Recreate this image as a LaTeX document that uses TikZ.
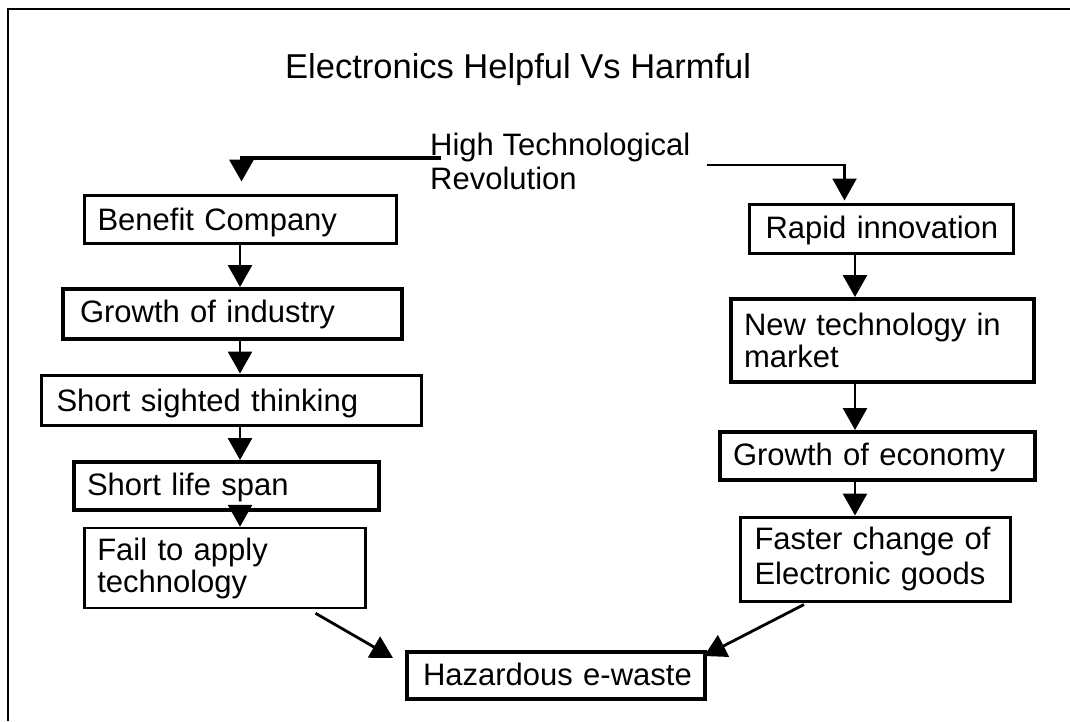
\documentclass[tikz,border=0pt]{standalone}
\usepackage{fontspec}
\setmainfont{Liberation Sans}
\usetikzlibrary{arrows.meta,calc}
\begin{document}
\begin{tikzpicture}[x=1pt,y=-1pt,
  box/.style={draw, line width=3pt, rectangle, anchor=west, inner ysep=0pt,
    align=left, font=\fontsize{31}{35}\selectfont},
  tight/.style={font=\fontsize{31}{32}\selectfont},
  % single-line boxes: place the baseline #1 below the box centre
  oneline/.style={text depth=6.5pt, text height=6.5pt+2*#1},
  heavy/.style={line width=4pt},
  arr/.style={line width=2.8pt, -{Triangle[length=22pt,width=24pt]}},
  frame/.style={line width=2pt},
]
\useasboundingbox (0,0) rectangle (1070,721);

% page frame: top and left rules only
\draw[frame] (1070,9) -- (8,9) -- (8,721);

% title and source label
\node[anchor=base west, inner sep=0pt, font=\fontsize{34.5}{40}\selectfont] (title)
  at (285,78) {Electronics Helpful Vs Harmful};
\node[anchor=north west, inner sep=0pt, align=left, font=\fontsize{31}{34}\selectfont] (htr)
  at (430,133) {High Technological\\Revolution};

% left branch
\node[box, oneline=11pt, minimum width=312pt, minimum height=48pt, text width=286pt, inner xsep=13pt] (ben)
  at (83,219) {\mbox{Benefit Company}};
\node[box, heavy, oneline=8.7pt, minimum width=339pt, minimum height=50pt, text width=305pt, inner xsep=17pt] (gin)
  at (61,314) {\mbox{Growth of industry}};
\node[box, oneline=11.7pt, minimum width=380pt, minimum height=50pt, text width=350pt, inner xsep=15pt] (sst)
  at (40,400) {\mbox{Short sighted thinking}};
\node[box, heavy, oneline=9pt, minimum width=305pt, minimum height=48pt, text width=279pt, inner xsep=13pt] (sls)
  at (72,486) {\mbox{Short life span}};
\node[box, tight, line width=2.5pt, minimum width=281pt, minimum height=80pt, text width=255pt, inner xsep=13pt] (fail)
  at (83,568) {\mbox{Fail to apply}\\\mbox{technology}};

% right branch
\node[box, oneline=9.5pt, minimum width=264pt, minimum height=49pt, text width=232pt, inner xsep=16pt] (rap)
  at (748,228.5) {\mbox{Rapid innovation}};
\node[box, tight, heavy, minimum width=303pt, minimum height=83pt, text width=277pt, inner xsep=13pt] (ntm)
  at (729,340.5) {\mbox{New technology in}\\\mbox{market}};
\node[box, heavy, oneline=9pt, minimum width=315pt, minimum height=48pt, text width=289pt, inner xsep=13pt] (gec)
  at (718,456) {\mbox{Growth of economy}};
\node[box, minimum width=270pt, minimum height=84pt, text width=242pt, inner xsep=14pt] (fcg)
  at (739,559) {\mbox{Faster change of}\\\mbox{Electronic goods}};

% common outcome
\node[box, heavy, oneline=9.5pt, minimum width=298pt, minimum height=47pt, text width=266pt, inner xsep=16pt] (haz)
  at (405,675.5) {\mbox{Hazardous e-waste}};

% column guides for the vertical arrows
\coordinate (lc) at (240,0);
\coordinate (rc) at (855,0);

% split from the revolution label
\draw[arr, line width=3.5pt] ($(htr.north west)+(11,25)$) -| ($(ben.north)+(1,-12)$);
\draw[arr, line width=2.5pt] ($(htr.north west)+(277,32)$) -| ($(rap.north)+(-37,-2)$);

% left chain
\draw[arr] (ben.south -| lc) -- (gin.north -| lc);
\draw[arr] (gin.south -| lc) -- (sst.north -| lc);
\draw[arr] (sst.south -| lc) -- (sls.north -| lc);
\draw[arr] (sls.south -| lc) -- (fail.north -| lc);

% right chain
\draw[arr] (rap.south -| rc) -- (ntm.north -| rc);
\draw[arr] (ntm.south -| rc) -- (gec.north -| rc);
\draw[arr] (gec.south -| rc) -- (fcg.north -| rc);

% both branches end in e-waste
\draw[arr] ($(fail.south east)+(-51,4)$) -- ($(haz.north west)+(-12,8)$);
\draw[arr] ($(fcg.south west)+(65,2)$) -- ($(haz.north east)+(-3,6)$);
\end{tikzpicture}
\end{document}
